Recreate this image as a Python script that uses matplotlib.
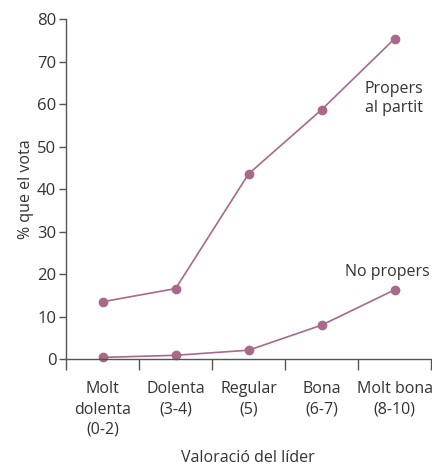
import numpy as np
import matplotlib.pyplot as plt

categories = ["Molt\ndolenta\n(0-2)", "Dolenta\n(3-4)", "Regular\n(5)", "Bona\n(6-7)", "Molt bona\n(8-10)"]
propers = [13.5, 16.6, 43.6, 58.7, 75.4]
no_propers = [0.4, 0.9, 2.1, 8.0, 16.3]

color = "#a8698b"
txt = "#333333"
plt.rcParams['font.family'] = ['Open Sans', 'DejaVu Sans']

fig = plt.figure(figsize=(4.32, 4.67), dpi=100)
ax = fig.add_axes([0.153, 0.231, 0.845, 0.728])

x = np.arange(len(categories))
ax.plot(x, propers, color=color, lw=1.2, marker='o', ms=6, clip_on=False)
ax.plot(x, no_propers, color=color, lw=1.2, marker='o', ms=6, clip_on=False)

ax.set_xlim(-0.5, 4.5)
ax.set_ylim(0, 80)
ax.set_yticks(range(0, 81, 10))
ax.set_xticks(np.arange(-0.5, 4.6, 1))
ax.set_xticklabels([])
ax.set_xticks(x, minor=True)
ax.set_xticklabels(categories, minor=True, fontsize=11.5, color=txt, linespacing=1.35)
ax.tick_params(axis='x', which='major', length=8, width=1, color='#555555')
ax.tick_params(axis='x', which='minor', length=0, pad=16)
ax.tick_params(axis='y', length=5, width=1, color='#555555', labelsize=12, labelcolor=txt, pad=2)

for s in ['top', 'right']:
    ax.spines[s].set_visible(False)
for s in ['left', 'bottom']:
    ax.spines[s].set_color('#555555')
    ax.spines[s].set_linewidth(1)

ax.text(3.59, 61.4, "Propers\nal partit", fontsize=11.5, color=txt, ha='left', va='center', linespacing=1.25)
ax.text(4.48, 20.5, "No propers", fontsize=11.5, color=txt, ha='right', va='center')

ax.set_ylabel("% que el vota", fontsize=11.5, color=txt, labelpad=2)
fig.text(248 / 432, 1 - 458 / 467, "Valoració del líder", fontsize=11.5, color=txt, ha='center', va='center')

fig.savefig("out.png", dpi=100)
